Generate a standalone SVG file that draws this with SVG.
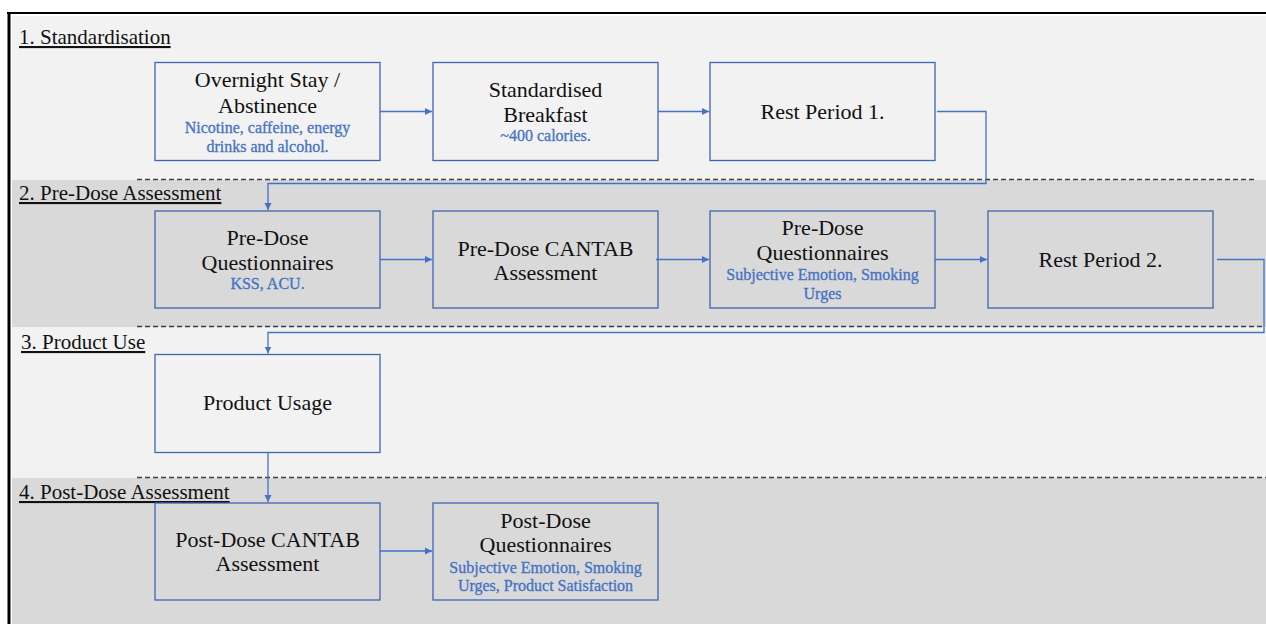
<svg xmlns="http://www.w3.org/2000/svg" width="1266" height="624" viewBox="0 0 1266 624">
<style>
.t{font-family:"Liberation Serif","Times New Roman",serif;font-size:22px;fill:#111;text-anchor:middle}
.s{font-family:"Liberation Serif","Times New Roman",serif;font-size:16px;fill:#4472c4;text-anchor:middle;stroke:#4472c4;stroke-width:0.3}
.h{font-family:"Liberation Serif","Times New Roman",serif;font-size:21px;fill:#111;text-decoration:underline}
.box{stroke:#3d66b0;stroke-width:1.3}
.dash{stroke:#404040;stroke-width:1.4;stroke-dasharray:5 3;fill:none}
.c{stroke:#4472c4;stroke-width:1.3;fill:none;marker-end:url(#ah)}
</style>
<defs>
<marker id="ah" markerWidth="8" markerHeight="8" refX="7" refY="4" orient="auto" markerUnits="userSpaceOnUse">
<path d="M0,0.5 L7,4 L0,7.5 Z" fill="#4472c4"/>
</marker>
</defs>
<rect x="0" y="0" width="1266" height="624" fill="#ffffff"/>
<!-- section backgrounds -->
<g id="sections">
<rect x="12" y="16" width="1254" height="164" fill="#f2f2f2"/>
<rect x="12" y="180" width="1254" height="147" fill="#d9d9d9"/>
<rect x="12" y="327" width="1254" height="151" fill="#f2f2f2"/>
<rect x="12" y="478" width="1254" height="146" fill="#d9d9d9"/>
<line class="dash" x1="137" y1="179.5" x2="1257" y2="179.5"/>
<line class="dash" x1="137" y1="326.5" x2="1262" y2="326.5"/>
<line class="dash" x1="137" y1="477.5" x2="1266" y2="477.5"/>
<text class="h" x="19" y="44">1. Standardisation</text>
<text class="h" x="19" y="200">2. Pre-Dose Assessment</text>
<text class="h" x="21" y="349">3. Product Use</text>
<text class="h" x="19" y="499">4. Post-Dose Assessment</text>
</g>
<!-- frame -->
<g id="frame">
<line x1="7" y1="13" x2="1266" y2="13" stroke="#000" stroke-width="2.2"/>
<line x1="9" y1="12" x2="9" y2="624" stroke="#000" stroke-width="3"/>
</g>
<!-- nodes -->
<g id="overnight">
<rect class="box" x="155" y="62.5" width="225" height="98" fill="#f2f2f2"/>
<text class="t" x="267.5" y="87">Overnight Stay /</text>
<text class="t" x="267.5" y="112.5">Abstinence</text>
<text class="s" x="267.5" y="133">Nicotine, caffeine, energy</text>
<text class="s" x="267.5" y="151.5">drinks and alcohol.</text>
</g>
<g id="breakfast">
<rect class="box" x="433" y="62.5" width="225" height="98" fill="#f2f2f2"/>
<text class="t" x="545.5" y="96.5">Standardised</text>
<text class="t" x="545.5" y="121.5">Breakfast</text>
<text class="s" x="545.5" y="140.5">~400 calories.</text>
</g>
<g id="rest1">
<rect class="box" x="710" y="62.5" width="225" height="98" fill="#f2f2f2"/>
<text class="t" x="822.5" y="119">Rest Period 1.</text>
</g>
<g id="predose-q1">
<rect class="box" x="155" y="211" width="225" height="97" fill="#d9d9d9"/>
<text class="t" x="267.5" y="245">Pre-Dose</text>
<text class="t" x="267.5" y="270">Questionnaires</text>
<text class="s" x="267.5" y="289">KSS, ACU.</text>
</g>
<g id="predose-cantab">
<rect class="box" x="433" y="211" width="225" height="97" fill="#d9d9d9"/>
<text class="t" x="545.5" y="256">Pre-Dose CANTAB</text>
<text class="t" x="545.5" y="279.5">Assessment</text>
</g>
<g id="predose-q2">
<rect class="box" x="710" y="211" width="225" height="97" fill="#d9d9d9"/>
<text class="t" x="822.5" y="235">Pre-Dose</text>
<text class="t" x="822.5" y="260">Questionnaires</text>
<text class="s" x="822.5" y="280">Subjective Emotion, Smoking</text>
<text class="s" x="822.5" y="298.5">Urges</text>
</g>
<g id="rest2">
<rect class="box" x="988" y="211" width="225" height="97" fill="#d9d9d9"/>
<text class="t" x="1100.5" y="267">Rest Period 2.</text>
</g>
<g id="product-usage">
<rect class="box" x="155" y="354.5" width="225" height="98" fill="#f2f2f2"/>
<text class="t" x="267.5" y="410">Product Usage</text>
</g>
<g id="postdose-cantab">
<rect class="box" x="155" y="503" width="225" height="97" fill="#d9d9d9"/>
<text class="t" x="267.5" y="547">Post-Dose CANTAB</text>
<text class="t" x="267.5" y="571">Assessment</text>
</g>
<g id="postdose-q">
<rect class="box" x="433" y="503" width="225" height="97" fill="#d9d9d9"/>
<text class="t" x="545.5" y="528">Post-Dose</text>
<text class="t" x="545.5" y="552">Questionnaires</text>
<text class="s" x="545.5" y="573">Subjective Emotion, Smoking</text>
<text class="s" x="545.5" y="591">Urges, Product Satisfaction</text>
</g>
<!-- connectors -->
<g id="connectors">
<path class="c" d="M380,111.5 H432"/>
<path class="c" d="M658,111.5 H709"/>
<path class="c" d="M937,111.5 H986 V183.5 H268 V210"/>
<path class="c" d="M380,259.5 H432"/>
<path class="c" d="M656,259.5 H709"/>
<path class="c" d="M935,259.5 H987"/>
<path class="c" d="M1217,259.5 H1264 V332.5 H268 V353.5"/>
<path class="c" d="M268,452.5 V502"/>
<path class="c" d="M380,551 H432"/>
</g>
</svg>
